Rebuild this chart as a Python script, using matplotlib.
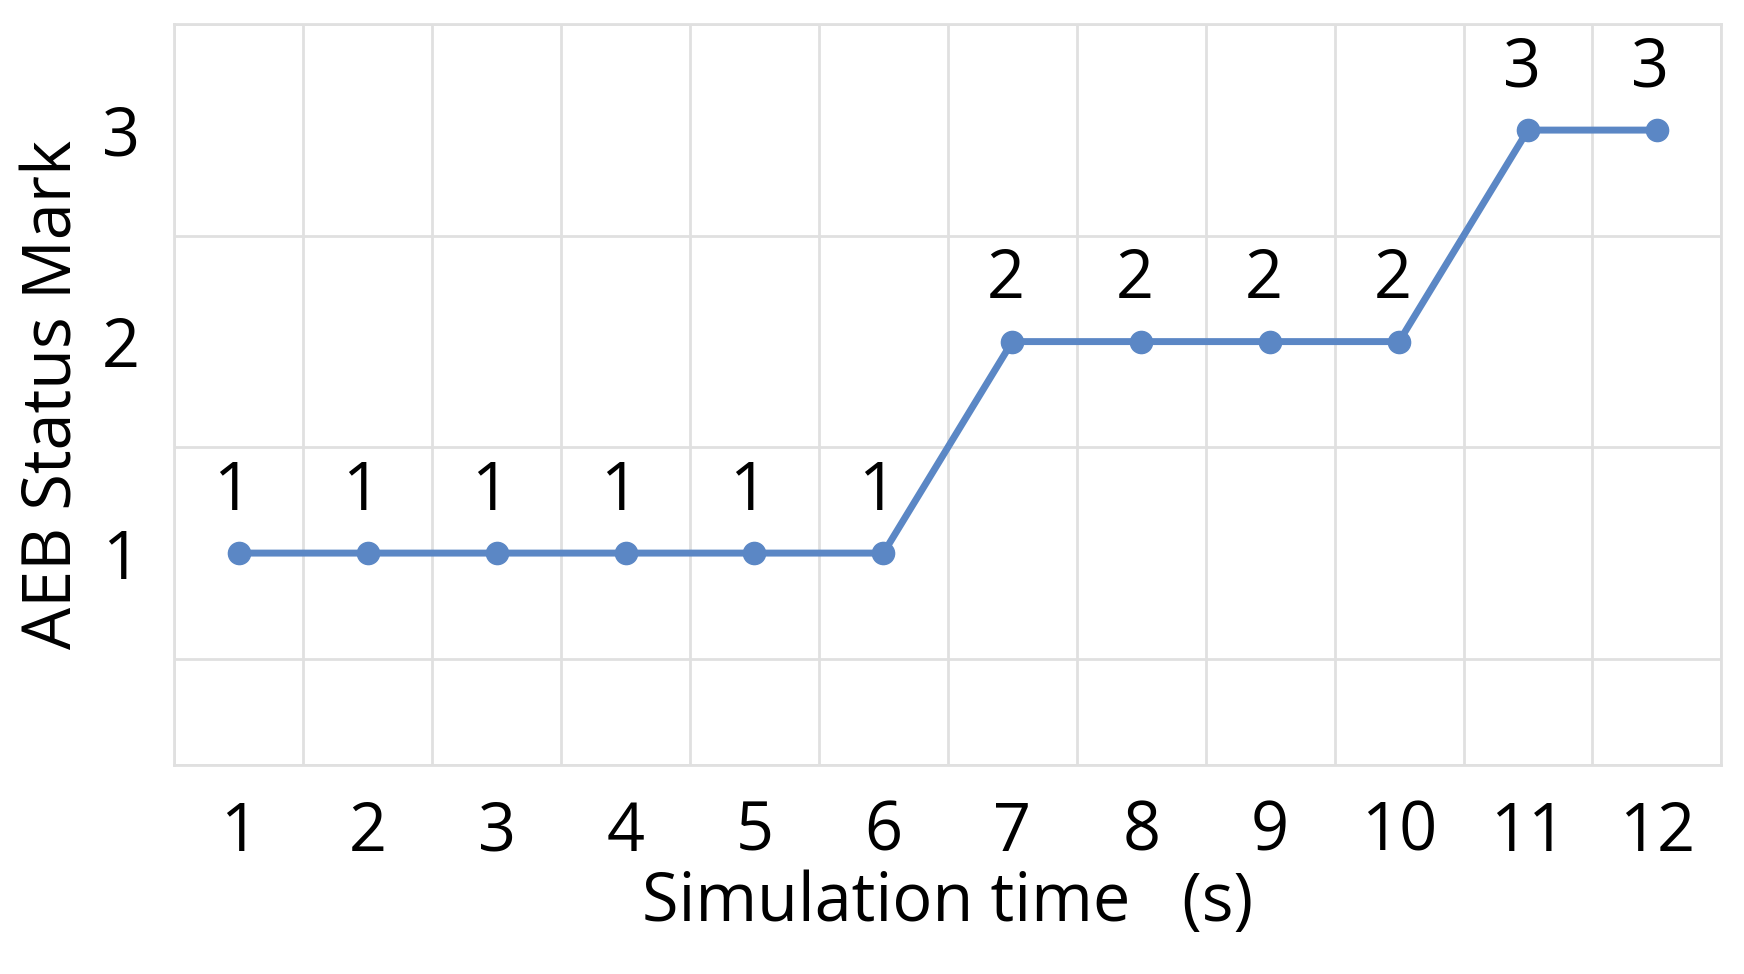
import matplotlib.pyplot as plt
import numpy as np

plt.rcParams['font.family'] = ['Open Sans', 'DejaVu Sans']

time_s = [1, 2, 3, 4, 5, 6, 7, 8, 9, 10, 11, 12]
status_mark = [1, 1, 1, 1, 1, 1, 2, 2, 2, 2, 3, 3]

fig = plt.figure(figsize=(17.44, 9.74), dpi=100)
ax = fig.add_axes([0.10, 0.215, 0.887, 0.76])

ax.plot(time_s, status_mark, color='#5b87c5', lw=5, marker='o', ms=16, zorder=3)
for t, s in zip(time_s, status_mark):
    ax.text(t - 0.05, s + 0.13, str(s), ha='center', va='bottom', fontsize=48)

ax.set_xlim(0.5, 12.5)
ax.set_ylim(0, 3.5)
ax.set_xticks(np.arange(0.5, 12.6, 1), minor=True)
ax.set_yticks(np.arange(0, 3.6, 0.5), minor=True)
ax.set_xticks(time_s)
ax.set_yticks([1, 2, 3])
ax.grid(True, which='minor', color='#e0e0e0', lw=2)
ax.tick_params(which='both', length=0, labelsize=48, pad=25)
for sp in ax.spines.values():
    sp.set_color('#e0e0e0')
    sp.set_linewidth(2)

ax.set_xlabel('Simulation time   (s)', fontsize=48, labelpad=2)
ax.set_ylabel('AEB Status Mark', fontsize=48, labelpad=10)

fig.savefig('out.png')
